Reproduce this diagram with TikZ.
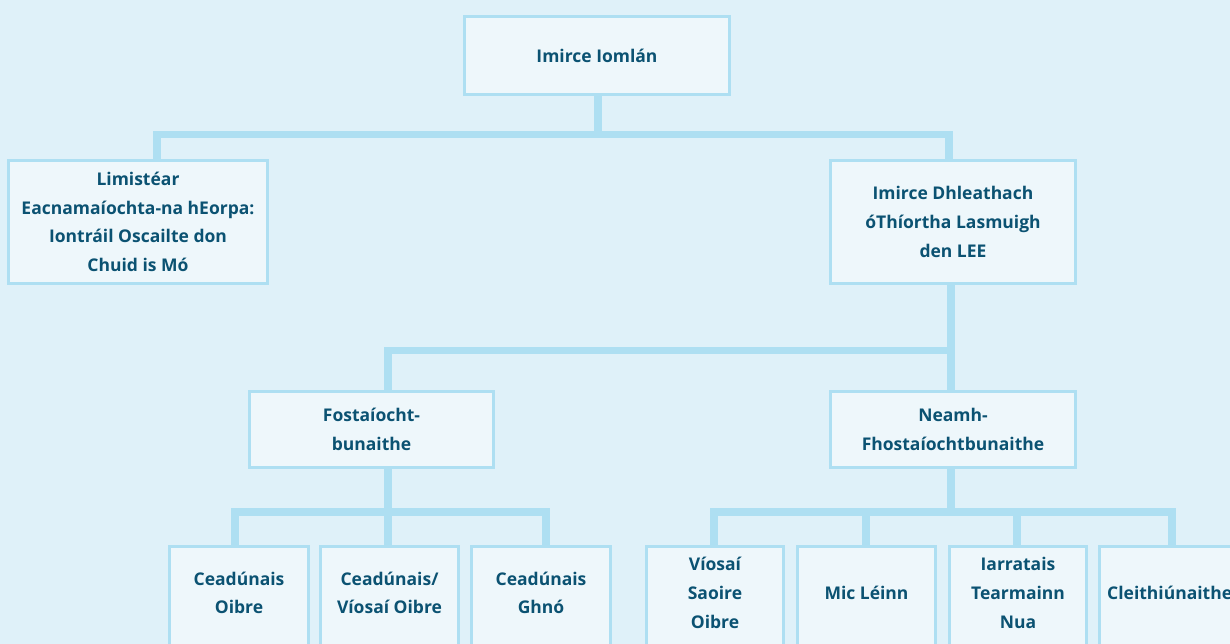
\documentclass[tikz,border=0pt]{standalone}
\usepackage{fontspec}
\setmainfont{Open Sans}
\usetikzlibrary{calc}
\definecolor{bgc}{HTML}{DFF1F9}
\definecolor{boxc}{HTML}{EEF7FB}
\definecolor{linec}{HTML}{AEDFF2}
\definecolor{txtc}{HTML}{0B5272}
\pgfdeclarelayer{back}
\pgfdeclarelayer{mid}
\pgfsetlayers{back,mid,main}
\tikzset{
  txtfont/.style={font=\fontsize{17.5}{28.7}\selectfont\bfseries},
  box/.style={draw=linec, fill=boxc, line width=3pt, inner sep=0pt, align=center, text=txtc, txtfont},
  lbl/.style={inner sep=0pt, align=center, text=txtc, txtfont},
  conn/.style={draw=linec, line width=7.5pt, line join=miter}
}
\begin{document}
\begin{tikzpicture}[x=1pt,y=-1pt]
\useasboundingbox (0,0) rectangle (1230,644);
\clip (0,0) rectangle (1230,644);
\begin{pgfonlayer}{back}
\fill[bgc] (0,0) rectangle (1230,644);
\end{pgfonlayer}

% level 0 and 1
\node[box, minimum width=265, minimum height=78] (top) at (597,55.5) {Imirce Iomlán};
\node[box, minimum width=259, minimum height=123] (eea) at (138,222) {Limistéar\\Eacnamaíochta-na hEorpa:\\Iontráil Oscailte don\\Chuid is Mó};
\node[box, minimum width=245, minimum height=123] (dhl) at (953,222) {Imirce Dhleathach\\óThíortha Lasmuigh\\den LEE};

% level 2
\node[box, minimum width=244, minimum height=76] (fost) at (371.5,429.5) {Fostaíocht-\\bunaithe};
\node[box, minimum width=245, minimum height=76] (neamh) at (953,429.5) {Neamh-\\Fhostaíochtbunaithe};

% level 3 boxes
\coordinate (ty) at (0,593);
\node[box, minimum width=139, minimum height=120, anchor=north] (c1) at (239,544.5) {};
\node[box, minimum width=138, minimum height=120, anchor=north] (c2) at (389.5,544.5) {};
\node[box, minimum width=139, minimum height=120, anchor=north] (c3) at (541,544.5) {};
\node[box, minimum width=137, minimum height=120, anchor=north] (v1) at (715,544.5) {};
\node[box, minimum width=138, minimum height=120, anchor=north] (v2) at (866.5,544.5) {};
\node[box, minimum width=137, minimum height=120, anchor=north] (v3) at (1018,544.5) {};
\node[box, minimum width=139, minimum height=120, anchor=north] (v4) at (1169,544.5) {};

\node[lbl] (c1t) at (c1.center |- ty) {Ceadúnais\\Oibre};
\node[lbl] (c2t) at (c2.center |- ty) {Ceadúnais/\\Víosaí Oibre};
\node[lbl] (c3t) at (c3.center |- ty) {Ceadúnais\\Ghnó};
\node[lbl] (v1t) at (v1.center |- ty) {Víosaí\\Saoire\\Oibre};
\node[lbl] (v2t) at (v2.center |- ty) {Mic Léinn};
\node[lbl] (v3t) at (v3.center |- ty) {Iarratais\\Tearmainn\\Nua};
\node[lbl, anchor=west] (v4t) at (1107,593) {Cleithiúnaithe};

\begin{pgfonlayer}{mid}
% level 1 connectors
\coordinate (j1) at (598,134.5);
\draw[conn] ($(top.south)+(1,0)$) -- (j1);
\draw[conn] ($(eea.north)+(19,0)$) |- (j1) -| ($(dhl.north)+(-4,0)$);
% level 2 connectors
\coordinate (j2) at (951,350.5);
\draw[conn] ($(dhl.south)+(-2,0)$) -- ($(neamh.north)+(-2,0)$);
\draw[conn] (j2) -| ($(fost.north)+(16.5,0)$);
% level 3 left
\coordinate (j3) at (388,512);
\draw[conn] ($(fost.south)+(16.5,0)$) -- (j3);
\draw[conn] ($(c1.north)+(-4,0)$) |- (j3) -| ($(c3.north)+(5,0)$);
\draw[conn] (j3) -- ($(c2.north)+(-1.5,0)$);
% level 3 right
\coordinate (j4) at (951,512);
\draw[conn] ($(neamh.south)+(-2,0)$) -- (j4);
\draw[conn] ($(v1.north)+(-1,0)$) |- (j4) -| ($(v4.north)+(3,0)$);
\draw[conn] ($(v2.north)+(-0.5,0)$) -- ($(v2.north |- j4)+(-0.5,0)$);
\draw[conn] ($(v3.north)+(-1,0)$) -- ($(v3.north |- j4)+(-1,0)$);
\end{pgfonlayer}
\end{tikzpicture}
\end{document}
